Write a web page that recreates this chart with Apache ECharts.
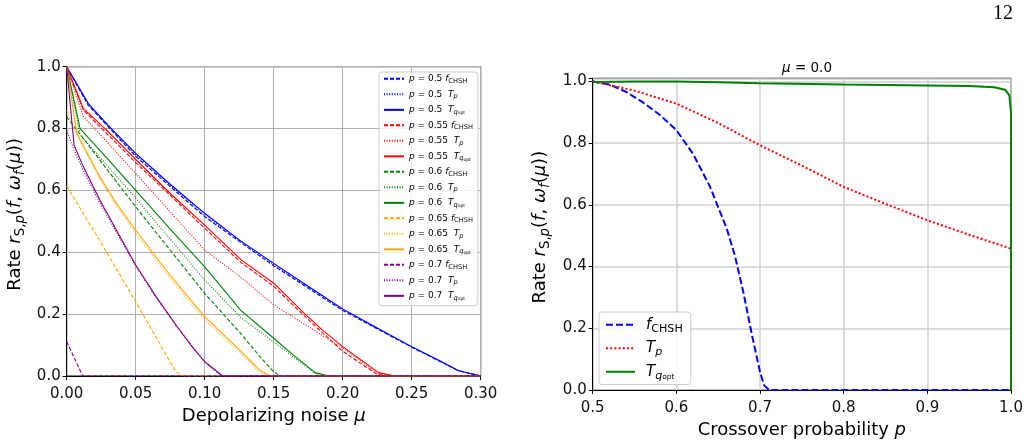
<!DOCTYPE html>
<html>
<head>
<meta charset="utf-8">
<script src="https://cdn.jsdelivr.net/npm/echarts@6/dist/echarts.min.js"></script>
<style>
html, body { margin: 0; padding: 0; background: #fff; }
#main { width: 1030px; height: 445px; }
</style>
</head>
<body>
<div id="main"></div>
<script>
// left panel: rate vs depolarizing noise mu, [mu, rate] pairs
var fChsh05 = [[0,1.0],[0.0157,0.875],[0.05,0.71],[0.10,0.515],[0.15,0.356],[0.20,0.212],[0.25,0.093],[0.284,0.017],[0.30,0]];
var tp05    = [[0,1.0],[0.0157,0.878],[0.05,0.715],[0.10,0.52],[0.15,0.36],[0.20,0.215],[0.25,0.094],[0.284,0.017],[0.30,0]];
var tq05    = [[0,1.0],[0.0157,0.881],[0.03,0.81],[0.05,0.72],[0.075,0.62],[0.10,0.526],[0.125,0.44],[0.15,0.364],[0.175,0.29],[0.20,0.217],[0.225,0.155],[0.25,0.095],[0.27,0.05],[0.284,0.017],[0.30,0]];

var fChsh055 = [[0,1.0],[0.012,0.86],[0.05,0.69],[0.10,0.478],[0.126,0.368],[0.15,0.29],[0.172,0.195],[0.20,0.08],[0.225,0.005],[0.235,0],[0.30,0]];
var tp055    = [[0,1.0],[0.012,0.84],[0.05,0.655],[0.10,0.407],[0.126,0.32],[0.15,0.23],[0.175,0.16],[0.20,0.09],[0.225,0.01],[0.235,0],[0.30,0]];
var tq055    = [[0,1.0],[0.012,0.865],[0.03,0.79],[0.05,0.70],[0.075,0.59],[0.10,0.488],[0.126,0.377],[0.15,0.30],[0.172,0.203],[0.185,0.15],[0.20,0.095],[0.226,0.011],[0.238,0],[0.30,0]];

var fChsh06 = [[0,0.838],[0.05,0.547],[0.10,0.267],[0.126,0.138],[0.14,0.0625],[0.15,0.014],[0.155,0],[0.30,0]];
var tp06    = [[0,1.0],[0.0097,0.78],[0.05,0.575],[0.10,0.31],[0.126,0.19],[0.15,0.11],[0.18,0.008],[0.186,0],[0.30,0]];
var tq06    = [[0,1.0],[0.0097,0.80],[0.03,0.70],[0.05,0.60],[0.075,0.475],[0.10,0.353],[0.126,0.213],[0.15,0.122],[0.165,0.065],[0.18,0.011],[0.19,0],[0.30,0]];

var fChsh065 = [[0,0.614],[0.025,0.43],[0.05,0.24],[0.079,0.014],[0.085,0],[0.30,0]];
var tp065    = [[0,0.86],[0.0073,0.78],[0.024,0.638],[0.036,0.55],[0.05,0.462],[0.075,0.315],[0.10,0.182],[0.125,0.078],[0.14,0.012],[0.145,0],[0.30,0]];
var tq065    = [[0,1.0],[0.0073,0.785],[0.024,0.644],[0.036,0.558],[0.05,0.472],[0.075,0.325],[0.10,0.192],[0.125,0.085],[0.14,0.019],[0.1455,0.005],[0.148,0],[0.30,0]];

var fChsh07 = [[0,0.111],[0.0116,0],[0.30,0]];
var tp07    = [[0,0.795],[0.0053,0.73],[0.012,0.665],[0.024,0.56],[0.036,0.465],[0.05,0.355],[0.065,0.252],[0.08,0.158],[0.10,0.045],[0.112,0],[0.30,0]];
var tq07    = [[0,1.0],[0.0053,0.747],[0.012,0.677],[0.024,0.569],[0.036,0.472],[0.05,0.359],[0.065,0.255],[0.08,0.16],[0.09,0.1],[0.10,0.046],[0.113,0],[0.30,0]];

// right panel: rate vs crossover probability p at mu = 0
var fChshP = [[0.5,1.0],[0.52,0.99],[0.54,0.966],[0.56,0.932],[0.58,0.892],[0.60,0.842],[0.62,0.765],[0.64,0.66],[0.66,0.525],[0.67,0.435],[0.68,0.318],[0.69,0.183],[0.70,0.058],[0.705,0.015],[0.711,0],[1.0,0]];
var tpP    = [[0.5,1.0],[0.55,0.97],[0.6,0.928],[0.65,0.865],[0.7,0.793],[0.75,0.727],[0.8,0.658],[0.85,0.603],[0.9,0.55],[0.95,0.503],[1.0,0.458],[1.0,0]];
var tqP    = [[0.5,0.998],[0.55,1.0],[0.6,1.0],[0.65,0.997],[0.7,0.994],[0.8,0.99],[0.9,0.987],[0.95,0.985],[0.98,0.981],[0.993,0.973],[0.998,0.955],[1.0,0.9],[1.0,0]];

var pLabels = ['0.5', '0.55', '0.6', '0.65', '0.7'];
var pColors = ['#0000ff', '#ff0000', '#008000', '#ffa500', '#800080'];
var leftSets = [
  [fChsh05, tp05, tq05],
  [fChsh055, tp055, tq055],
  [fChsh06, tp06, tq06],
  [fChsh065, tp065, tq065],
  [fChsh07, tp07, tq07]
];

var FONT = 'DejaVu Sans';
var chart = echarts.init(document.getElementById('main'));

var legendText = {};
var leftNames = [];
var series = [];

pLabels.forEach(function (p, i) {
  var kinds = [
    { key: 'fCHSH', dash: [4, 2], txt: '{i|p}{n| = ' + p + ' }{i|f}{s|CHSH}' },
    { key: 'Tp', dash: [1, 1.6], txt: '{i|p}{n| = ' + p + '  }{i|T}{si|p}' },
    { key: 'Tqopt', dash: 'solid', txt: '{i|p}{n| = ' + p + '  }{i|T}{si|q}{ss|opt}' }
  ];
  kinds.forEach(function (k, j) {
    var name = 'p=' + p + ' ' + k.key;
    leftNames.push(name);
    legendText[name] = k.txt;
    series.push({
      name: name,
      type: 'line',
      xAxisIndex: 0,
      yAxisIndex: 0,
      data: leftSets[i][j],
      symbol: 'none',
      lineStyle: { color: pColors[i], width: 1.1, type: k.dash },
      itemStyle: { color: pColors[i] }
    });
  });
});

legendText['fCHSH'] = '{i|f}{s|CHSH}';
legendText['Tp'] = '{i|T}{si|p}';
legendText['Tqopt'] = '{i|T}{si|q}{ss|opt}';

series.push(
  { name: 'fCHSH', type: 'line', xAxisIndex: 1, yAxisIndex: 1, data: fChshP, symbol: 'none',
    lineStyle: { color: '#0000ff', width: 2, type: [7, 3] }, itemStyle: { color: '#0000ff' } },
  { name: 'Tp', type: 'line', xAxisIndex: 1, yAxisIndex: 1, data: tpP, symbol: 'none',
    lineStyle: { color: '#ff0000', width: 2, type: [2, 2.2] }, itemStyle: { color: '#ff0000' } },
  { name: 'Tqopt', type: 'line', xAxisIndex: 1, yAxisIndex: 1, data: tqP, symbol: 'none',
    lineStyle: { color: '#008000', width: 2, type: 'solid' }, itemStyle: { color: '#008000' } }
);

function richSet(size) {
  var base = { fontFamily: FONT, color: '#000', fontWeight: 'normal' };
  return {
    n: Object.assign({ fontSize: size, lineHeight: size * 1.3 }, base),
    i: Object.assign({ fontSize: size, fontStyle: 'italic', lineHeight: size * 1.3 }, base),
    s: Object.assign({ fontSize: size * 0.74, lineHeight: size * 0.8, verticalAlign: 'bottom' }, base),
    si: Object.assign({ fontSize: size * 0.74, fontStyle: 'italic', lineHeight: size * 0.8, verticalAlign: 'bottom' }, base),
    ss: Object.assign({ fontSize: size * 0.5, lineHeight: size * 0.45, verticalAlign: 'bottom' }, base),
    g: { width: 14 }
  };
}

// leading gap nudges the rotated label up a little, as in the figure
var yName = '{g|}{n|Rate }{i|r}{s|S,}{si|p}{n|(}{i|f}{n|, }{i|ω}{si|f}{n|(}{i|μ}{n|))}';

function valueAxis(grid, min, max, step, digits, name, gap, isY) {
  return {
    gridIndex: grid,
    type: 'value',
    min: min,
    max: max,
    interval: step,
    name: name,
    nameLocation: 'middle',
    nameGap: gap,
    nameTextStyle: { rich: richSet(18) },
    axisLine: { show: true, onZero: false, lineStyle: { color: '#000', width: 1 } },
    axisTick: { show: true, length: 4, lineStyle: { color: '#000' } },
    axisLabel: {
      fontSize: 15, fontFamily: FONT, color: '#111', margin: isY ? 6 : 11,
      formatter: function (v) {
        var r = Math.round(v / step);
        if (Math.abs(v - r * step) > 1e-6) return '';
        return v.toFixed(digits);
      }
    },
    splitLine: { show: true, lineStyle: { color: grid === 0 ? '#b0b0b0' : '#cfcfcf', width: grid === 0 ? 1 : 1.5 } }
  };
}

var option = {
  animation: false,
  backgroundColor: '#fff',
  title: {
    text: '{i|μ}{n| = 0.0}',
    left: 802,
    top: 55,
    textAlign: 'center',
    textStyle: { fontWeight: 'normal', rich: richSet(13.5) }
  },
  graphic: [{
    type: 'text',
    x: 1003,
    y: 14,
    style: { text: '12', font: '20px "Liberation Serif"', fill: '#000', align: 'center', verticalAlign: 'middle' }
  }],
  grid: [
    { left: 66.7, top: 66.7, width: 414, height: 309.3, show: true, borderColor: '#000', borderWidth: 1, backgroundColor: 'transparent' },
    { left: 592.7, top: 78.3, width: 418.3, height: 311.7, show: true, borderColor: '#222', borderWidth: 1.2, backgroundColor: 'transparent' }
  ],
  xAxis: [
    valueAxis(0, 0, 0.3, 0.05, 2, '{n|Depolarizing noise }{i|μ}', 25, false),
    valueAxis(1, 0.5, 1.0, 0.1, 1, '{n|Crossover probability }{i|p}', 27, false)
  ],
  yAxis: [
    valueAxis(0, 0, 1.0, 0.2, 1, yName, 40, true),
    valueAxis(1, 0, 1.01, 0.2, 1, yName, 41, true)
  ],
  legend: [
    {
      data: leftNames,
      orient: 'vertical',
      left: 379,
      top: 72,
      padding: [1, 5, 4, 4],
      itemWidth: 20,
      itemHeight: 8,
      itemGap: 3.8,
      borderColor: '#cccccc',
      borderWidth: 1,
      borderRadius: 3,
      backgroundColor: 'rgba(255,255,255,0.85)',
      itemStyle: { opacity: 0 },
      formatter: function (name) { return legendText[name]; },
      textStyle: { fontFamily: FONT, fontSize: 9, lineHeight: 12, rich: richSet(9) }
    },
    {
      data: ['fCHSH', 'Tp', 'Tqopt'],
      orient: 'vertical',
      left: 599,
      top: 312,
      padding: [3, 8, 3, 6],
      itemWidth: 29,
      itemHeight: 10,
      itemGap: 4,
      borderColor: '#cccccc',
      borderWidth: 1,
      borderRadius: 3,
      backgroundColor: 'rgba(255,255,255,0.85)',
      itemStyle: { opacity: 0 },
      formatter: function (name) { return '{h|}' + legendText[name]; },
      textStyle: {
        fontFamily: FONT, fontSize: 15, lineHeight: 18,
        rich: Object.assign(richSet(15), { h: { width: 6 } })
      }
    }
  ],
  series: series
};

chart.setOption(option);
</script>
</body>
</html>
